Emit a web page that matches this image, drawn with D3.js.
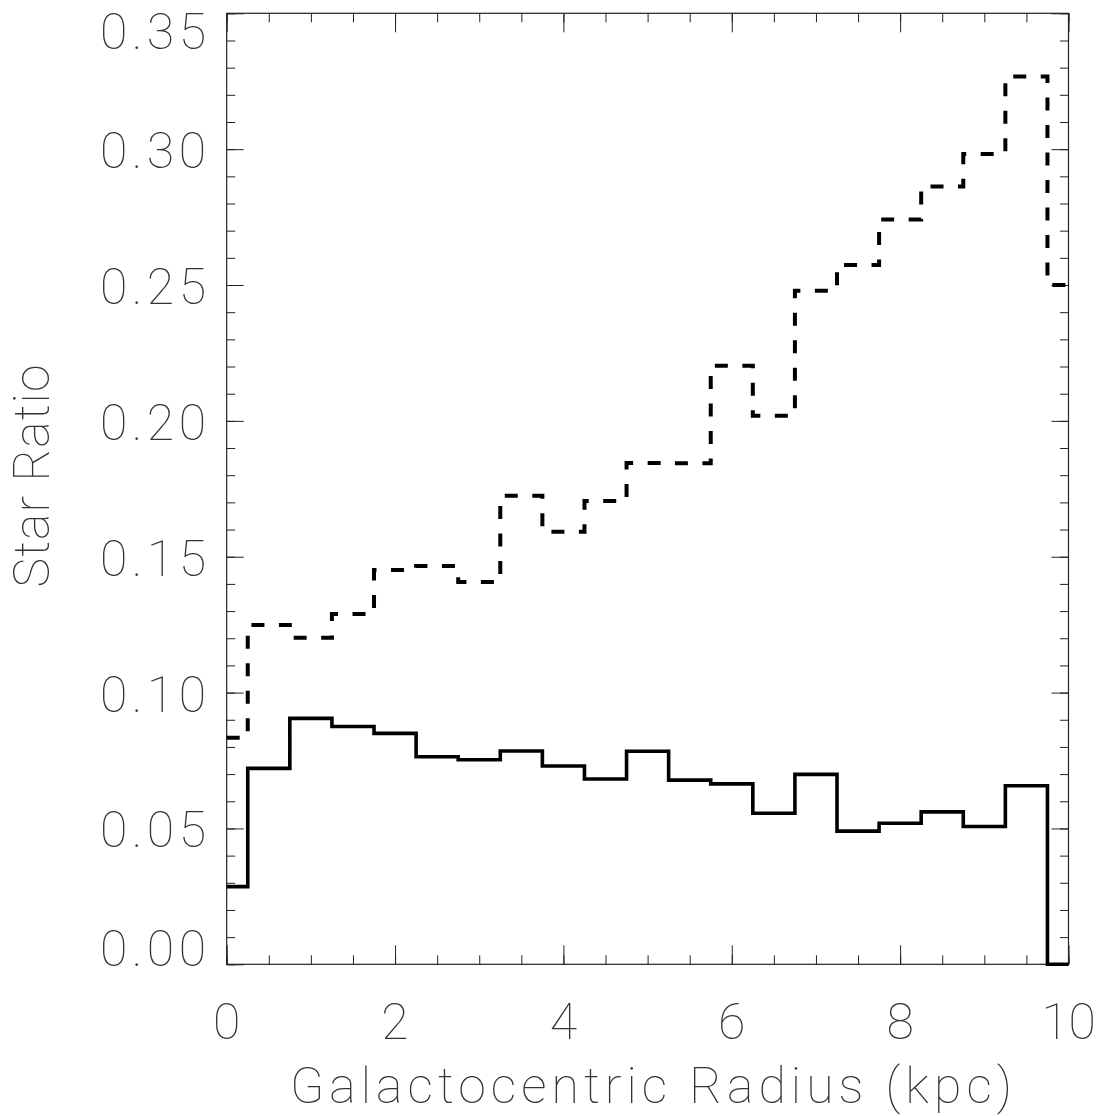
<!DOCTYPE html>
<html><head><meta charset="utf-8">
<script src="https://cdn.jsdelivr.net/npm/d3@7/dist/d3.min.js"></script>
<style>
html,body{margin:0;padding:0;background:#fff;}
text{font-family:"Roboto","DejaVu Sans",sans-serif;font-weight:100;fill:#333;}
</style></head>
<body>
<svg id="chart" width="1102" height="1116"></svg>
<script>
// Bin centres (kpc), bins 0.5 kpc wide, clipped to [0,10]
const binCenters = [0,0.5,1,1.5,2,2.5,3,3.5,4,4.5,5,5.5,6,6.5,7,7.5,8,8.5,9,9.5,10];
const solidRatio = [0.0286,0.0721,0.0905,0.0875,0.0850,0.0764,0.0753,0.0785,0.0730,0.0682,0.0784,0.0678,0.0664,0.0556,0.0699,0.0490,0.0519,0.0561,0.0507,0.0657,0.0];
const dashedRatio = [0.0834,0.1249,0.1202,0.1289,0.1451,0.1466,0.1407,0.1724,0.1592,0.1705,0.1845,0.1844,0.2203,0.2019,0.2479,0.2574,0.2741,0.2863,0.2982,0.3267,0.2500];
const xMajorTicks = [0,2,4,6,8,10];
const xMinorTicks = d3.range(0,10.001,0.5);
const yMajorTicks = [0,0.05,0.10,0.15,0.20,0.25,0.30,0.35];
const yMinorTicks = d3.range(0,0.3501,0.01);
const binWidth = 0.5;

const L=226.7, R=1068.5, T=13.3, B=964.3;
const svg = d3.select("#chart");
const x = d3.scaleLinear().domain([0,10]).range([L,R]);
const y = d3.scaleLinear().domain([0,0.35]).range([B,T]);

const axisColor="#222";
function addAxis(gen, tr){
  const g = svg.append("g").attr("transform",tr).call(gen);
  g.select(".domain").remove();
  g.selectAll("line").attr("stroke",axisColor).attr("stroke-width",1);
  g.selectAll("text").remove();
  return g;
}
// minor ticks
addAxis(d3.axisBottom(x).tickValues(xMinorTicks).tickSize(-9).tickSizeOuter(0), `translate(0,${B})`);
addAxis(d3.axisTop(x).tickValues(xMinorTicks).tickSize(-9).tickSizeOuter(0), `translate(0,${T})`);
addAxis(d3.axisLeft(y).tickValues(yMinorTicks).tickSize(-8.5).tickSizeOuter(0), `translate(${L},0)`);
addAxis(d3.axisRight(y).tickValues(yMinorTicks).tickSize(-8.5).tickSizeOuter(0), `translate(${R},0)`);
// major ticks
addAxis(d3.axisBottom(x).tickValues(xMajorTicks).tickSize(-19).tickSizeOuter(0), `translate(0,${B})`);
addAxis(d3.axisTop(x).tickValues(xMajorTicks).tickSize(-19).tickSizeOuter(0), `translate(0,${T})`);
addAxis(d3.axisLeft(y).tickValues(yMajorTicks).tickSize(-17).tickSizeOuter(0), `translate(${L},0)`);
addAxis(d3.axisRight(y).tickValues(yMajorTicks).tickSize(-17).tickSizeOuter(0), `translate(${R},0)`);

// frame
svg.append("rect").attr("x",L).attr("y",T).attr("width",R-L).attr("height",B-T)
  .attr("fill","none").attr("stroke",axisColor).attr("stroke-width",1.2);

// tick labels
svg.append("g").selectAll("text").data(xMajorTicks).join("text")
  .attr("x",d=>x(d)).attr("y",1039)
  .attr("text-anchor","middle").attr("font-size",50)
  .text(d=>d3.format("d")(d));
svg.append("g").selectAll("text").data(yMajorTicks).join("text")
  .attr("x",206)
  .attr("y",d=>Math.min(Math.max(y(d),T+17),B-17)+19)
  .attr("text-anchor","end").attr("font-size",50)
  .attr("textLength",106).attr("lengthAdjust","spacing")
  .text(d=>d3.format(".2f")(d));

// titles
svg.append("text").attr("x",651).attr("y",1103).attr("text-anchor","middle")
  .attr("font-size",50).attr("textLength",722).attr("lengthAdjust","spacing")
  .text("Galactocentric Radius (kpc)");
svg.append("text").attr("transform","translate(49,476) rotate(-90)").attr("text-anchor","middle")
  .attr("font-size",50).attr("textLength",223).attr("lengthAdjust","spacing")
  .text("Star Ratio");

// step histograms
function stepPoints(vals){
  const pts=[];
  binCenters.forEach((c,i)=>{
    const x0=Math.max(0,c-binWidth/2), x1=Math.min(10,c+binWidth/2);
    pts.push([x0,vals[i]],[x1,vals[i]]);
  });
  return pts;
}
const line = d3.line().x(d=>x(d[0])).y(d=>y(d[1]));
svg.append("path").attr("d",line(stepPoints(dashedRatio)))
  .attr("fill","none").attr("stroke","#000").attr("stroke-width",4)
  .attr("stroke-dasharray","13,14.5");
svg.append("path").attr("d",line(stepPoints(solidRatio)))
  .attr("fill","none").attr("stroke","#000").attr("stroke-width",3.6);
</script>
</body></html>
